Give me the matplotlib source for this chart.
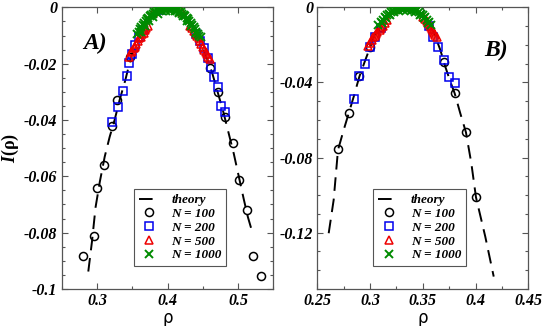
import matplotlib
matplotlib.use('Agg')
import matplotlib.pyplot as plt
from matplotlib.ticker import MultipleLocator, FuncFormatter

plt.rcParams['axes.unicode_minus'] = False
plt.rcParams['mathtext.fontset'] = 'custom'
plt.rcParams['mathtext.it'] = 'Liberation Serif:italic:bold'

SERIF = 'Liberation Serif'
FRAME = '#555555'

# ---------------- panel A ----------------
thA_x = [0.2877, 0.293, 0.298, 0.304, 0.311, 0.318, 0.325, 0.332, 0.340, 0.348,
         0.356, 0.365, 0.375, 0.385, 0.393, 0.400, 0.407, 0.415, 0.425, 0.435,
         0.445, 0.455, 0.463, 0.471, 0.479, 0.487, 0.494, 0.501, 0.508, 0.514, 0.5204]
thA_y = [-0.0938, -0.083, -0.071, -0.062, -0.053, -0.046, -0.040, -0.033, -0.026, -0.018,
         -0.012, -0.0072, -0.0034, -0.0012, -0.0003, 0.0, -0.0003, -0.0013, -0.0036, -0.0070,
         -0.0115, -0.0175, -0.023, -0.030, -0.037, -0.045, -0.052, -0.060, -0.068, -0.0745, -0.0800]

a100_x = [0.2806, 0.2962, 0.300, 0.3105, 0.3215, 0.329, 0.347,
          0.4604, 0.4722, 0.4816, 0.4934, 0.5019, 0.5124, 0.5209, 0.5327]
a100_y = [-0.0884, -0.0813, -0.0642, -0.0559, -0.0423, -0.0329, -0.0175,
          -0.0216, -0.0299, -0.0388, -0.048, -0.0612, -0.0719, -0.0884, -0.0953]

a200_x = [0.3209, 0.3303, 0.3365, 0.343, 0.3459, 0.350, 0.354, 0.360, 0.365, 0.390,
          0.440, 0.446, 0.452, 0.457, 0.4613, 0.4665, 0.4722, 0.476, 0.482]
a200_y = [-0.0406, -0.0355, -0.0296, -0.0244, -0.0199, -0.0165, -0.0134, -0.0105, -0.008, -0.0008,
          -0.0095, -0.0118, -0.0145, -0.018, -0.0211, -0.0246, -0.0282, -0.035, -0.037]

a500_x = [0.346, 0.348, 0.350, 0.352, 0.354, 0.356, 0.358, 0.360, 0.362, 0.364, 0.366, 0.368,
          0.370, 0.372, 0.380, 0.390, 0.400, 0.410, 0.420,
          0.432, 0.435, 0.438, 0.440, 0.442, 0.444, 0.446, 0.448, 0.450, 0.452, 0.454,
          0.456, 0.458, 0.460]
a500_y = [-0.0175, -0.016, -0.0155, -0.0145, -0.014, -0.013, -0.012, -0.011, -0.0105, -0.0095,
          -0.009, -0.008, -0.0072, -0.0065, -0.002, -0.0002, 0.0006, 0.0, -0.0015,
          -0.0065, -0.0075, -0.0085, -0.0095, -0.010, -0.011, -0.012, -0.013, -0.014, -0.015,
          -0.016, -0.0165, -0.0175, -0.0185]

a1000_x = [0.357, 0.359, 0.361, 0.363, 0.365, 0.367, 0.369, 0.371, 0.373, 0.375, 0.377, 0.379,
           0.381, 0.383, 0.385, 0.387, 0.389, 0.391, 0.393, 0.395, 0.397, 0.399, 0.401, 0.403,
           0.405, 0.407, 0.409, 0.411, 0.413, 0.415, 0.417, 0.419, 0.421, 0.423, 0.425, 0.427,
           0.429, 0.431, 0.433, 0.435, 0.437, 0.439, 0.441, 0.443, 0.445, 0.447,
           0.362, 0.368, 0.374, 0.380, 0.386, 0.392, 0.398, 0.404, 0.410, 0.416, 0.422, 0.428,
           0.434, 0.440]
a1000_y = [-0.0094, -0.0086, -0.0078, -0.0070, -0.0062, -0.0056, -0.0049, -0.0043, -0.0037,
           -0.0032, -0.0027, -0.0022, -0.0018, -0.0015, -0.0011, -0.0009, -0.0006, -0.0004,
           -0.0002, -0.0001, 0.0, 0.0, 0.0, 0.0, -0.0001, -0.0002, -0.0004, -0.0006, -0.0009,
           -0.0011, -0.0015, -0.0018, -0.0022, -0.0027, -0.0032, -0.0037, -0.0043, -0.0049,
           -0.0056, -0.0062, -0.0070, -0.0078, -0.0086, -0.0094, -0.0100, -0.0104,
           -0.0088, -0.0066, -0.0047, -0.0033, -0.0022, -0.0014, -0.0012, -0.0012, -0.0014,
           -0.0021, -0.0032, -0.0047, -0.0066, -0.0090]

# ---------------- panel B ----------------
thB_x = [0.2608, 0.2655, 0.2696, 0.2750, 0.2798, 0.2845, 0.2898, 0.2949, 0.2997, 0.3050,
         0.3113, 0.318, 0.325, 0.333, 0.3398, 0.3476, 0.3556, 0.3619, 0.3666, 0.3713,
         0.3761, 0.3802, 0.3855, 0.3909, 0.3960, 0.4004, 0.4092, 0.4172]
thB_y = [-0.1203, -0.1026, -0.0760, -0.0653, -0.0564, -0.0476, -0.0370, -0.0290, -0.0218, -0.0138,
         -0.0068, -0.0033, -0.0010, 0.0, -0.0005, -0.0032, -0.0085, -0.0156, -0.0227, -0.0316,
         -0.0396, -0.0458, -0.0564, -0.0666, -0.0831, -0.1012, -0.1221, -0.1434]

b100_x = [0.2696, 0.2798, 0.2898, 0.2997, 0.3105, 0.3698, 0.3802, 0.391, 0.4004]
b100_y = [-0.0756, -0.0564, -0.0366, -0.0213, -0.0105, -0.029, -0.0458, -0.0666, -0.1012]

b200_x = [0.2845, 0.2898, 0.2949, 0.2997, 0.305, 0.310, 0.356, 0.360, 0.3644, 0.3698,
          0.3745, 0.3802]
b200_y = [-0.0488, -0.0366, -0.0302, -0.0213, -0.016, -0.011, -0.010, -0.0157, -0.021, -0.028,
          -0.0373, -0.0405]

b500_x = [0.298, 0.300, 0.302, 0.303, 0.305, 0.306, 0.307, 0.309, 0.310, 0.312, 0.314, 0.316,
          0.325, 0.333, 0.340,
          0.350, 0.352, 0.354, 0.355, 0.357, 0.358, 0.359, 0.360, 0.361, 0.362, 0.363]
b500_y = [-0.0205, -0.019, -0.0175, -0.016, -0.015, -0.014, -0.013, -0.012, -0.011, -0.010,
          -0.0085, -0.007, -0.0008, 0.0006, -0.0006,
          -0.005, -0.006, -0.0075, -0.0085, -0.0095, -0.0105, -0.0115, -0.0125, -0.0135,
          -0.0148, -0.016]

b1000_x = [0.308, 0.310, 0.312, 0.314, 0.316, 0.318, 0.320, 0.322, 0.324, 0.326, 0.328, 0.330,
           0.332, 0.334, 0.336, 0.338, 0.340, 0.342, 0.344, 0.346, 0.348, 0.350, 0.352, 0.354,
           0.356, 0.358,
           0.311, 0.315, 0.319, 0.323, 0.327, 0.331, 0.335, 0.339, 0.343, 0.347, 0.351, 0.355]
b1000_y = [-0.0094, -0.0079, -0.0066, -0.0054, -0.0043, -0.0034, -0.0025, -0.0018, -0.0012,
           -0.0007, -0.0004, -0.0001, 0.0, 0.0, -0.0001, -0.0004, -0.0007, -0.0012, -0.0018,
           -0.0025, -0.0034, -0.0043, -0.0054, -0.0066, -0.0079, -0.0094,
           -0.0085, -0.0058, -0.0040, -0.0027, -0.0018, -0.0014, -0.0014, -0.0018, -0.0027,
           -0.0040, -0.0058, -0.0085]

fmt = FuncFormatter(lambda v, p: '%g' % (round(v, 4) + 0.0))


def style_axes(ax, xlim, ylim, xmaj, xmin, ymaj, ymin):
    ax.set_xlim(*xlim)
    ax.set_ylim(*ylim)
    ax.xaxis.set_major_locator(MultipleLocator(xmaj))
    ax.xaxis.set_minor_locator(MultipleLocator(xmin))
    ax.yaxis.set_major_locator(MultipleLocator(ymaj))
    ax.yaxis.set_minor_locator(MultipleLocator(ymin))
    ax.xaxis.set_major_formatter(fmt)
    ax.yaxis.set_major_formatter(fmt)
    ax.tick_params(which='both', direction='in', top=True, right=True, color=FRAME)
    ax.tick_params(which='major', length=4.5, width=0.8, pad=3)
    ax.tick_params(which='minor', length=2.3, width=0.8)
    for s in ax.spines.values():
        s.set_color(FRAME)
        s.set_linewidth(0.9)
    for lab in ax.get_xticklabels() + ax.get_yticklabels():
        lab.set_family(SERIF)
        lab.set_weight('bold')
        lab.set_style('italic')
        lab.set_fontsize(11.5)


def draw(ax, th_x, th_y, x1, y1, x2, y2, x3, y3, x4, y4, leg_x):
    ax.plot(th_x, th_y, color='black', lw=1.4, dashes=(7, 4), label='theory', zorder=2)
    ax.plot(x1, y1, ls='none', marker='o', ms=5.8, mfc='none', mec='black', mew=1.1,
            label='N = 100', zorder=3)
    ax.plot(x2, y2, ls='none', marker='s', ms=5.6, mfc='none', mec='#0000ee', mew=1.1,
            label='N = 200', zorder=4)
    ax.plot(x3, y3, ls='none', marker='^', ms=6, mfc='none', mec='#ee0000', mew=1.1,
            label='N = 500', zorder=5)
    ax.plot(x4, y4, ls='none', marker='x', ms=5.5, color='#008b00', mew=1.4,
            label='N = 1000', zorder=6)
    leg = ax.legend(loc='lower left', bbox_to_anchor=(leg_x, 0.058), numpoints=1,
                    handlelength=1.6, handletextpad=0.9, labelspacing=0.12,
                    borderpad=0.35, fancybox=False, framealpha=1, edgecolor=FRAME,
                    prop={'family': SERIF, 'weight': 'bold', 'style': 'italic', 'size': 9.5})
    leg.get_frame().set_linewidth(0.8)


fig = plt.figure(figsize=(5.45, 3.26), dpi=100)
axA = fig.add_axes([0.1132, 0.1135, 0.3883, 0.864])
axB = fig.add_axes([0.5822, 0.1135, 0.3872, 0.864])

draw(axA, thA_x, thA_y, a100_x, a100_y, a200_x, a200_y, a500_x, a500_y, a1000_x, a1000_y, 0.31)
draw(axB, thB_x, thB_y, b100_x, b100_y, b200_x, b200_y, b500_x, b500_y, b1000_x, b1000_y, 0.235)

style_axes(axA, (0.25, 0.55), (-0.1, 0.0), 0.1, 0.05, 0.02, 0.005)
style_axes(axB, (0.25, 0.45), (-0.15, 0.0), 0.05, 0.025, 0.04, 0.01)

axA.text(0.297, -0.0127, 'A)', ha='center', va='center', family=SERIF,
         weight='bold', style='italic', fontsize=17)
axB.text(0.419, -0.0227, 'B)', ha='center', va='center', family=SERIF,
         weight='bold', style='italic', fontsize=17)

axA.set_ylabel(r'$I$(ρ)', family=SERIF, weight='bold', fontsize=13, labelpad=2)
axA.set_xlabel('ρ', family='DejaVu Sans', fontsize=12, labelpad=0)
axB.set_xlabel('ρ', family='DejaVu Sans', fontsize=12, labelpad=0)

fig.savefig('out.png', dpi=100)
